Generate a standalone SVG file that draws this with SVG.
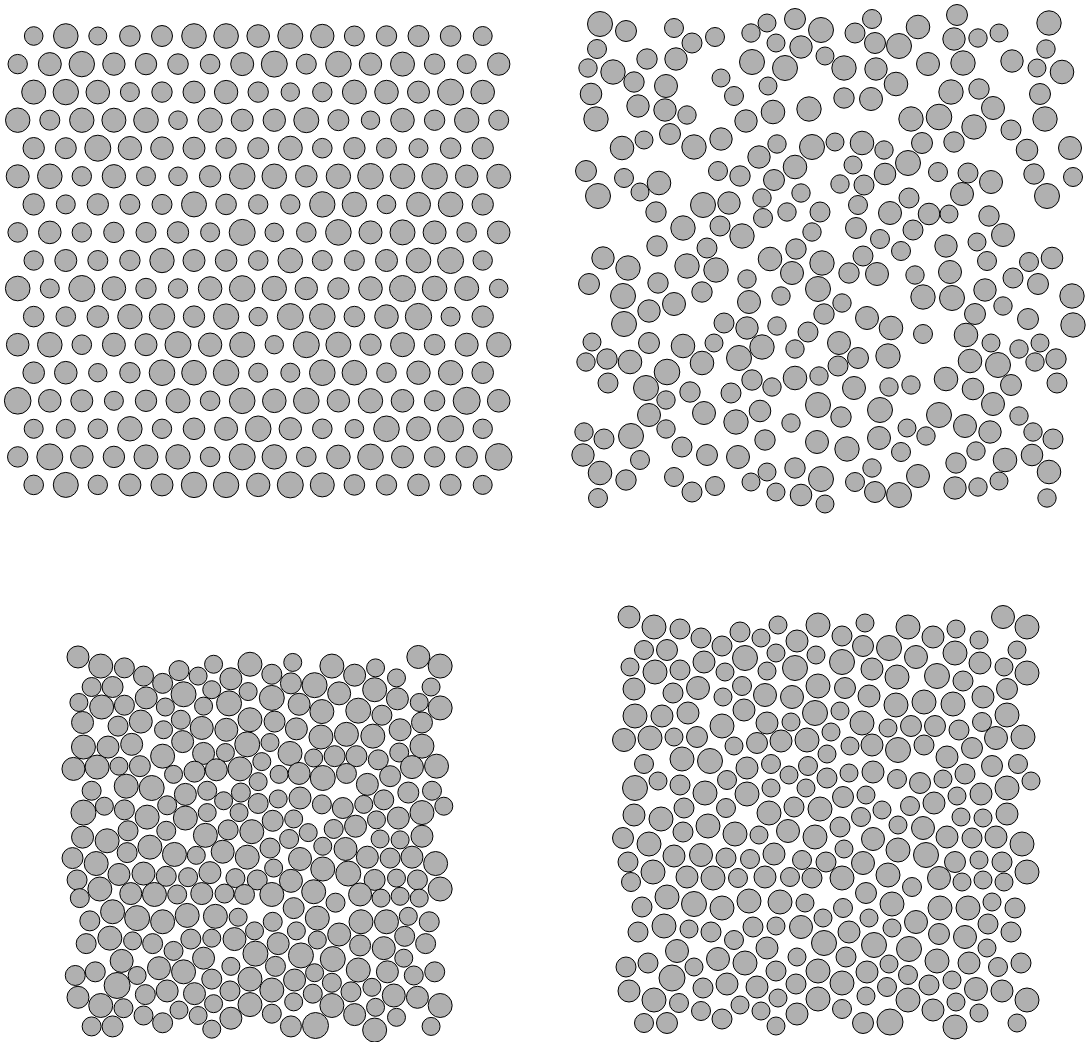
<svg xmlns="http://www.w3.org/2000/svg" xmlns:xlink="http://www.w3.org/1999/xlink" width="1092" height="1042" viewBox="0 0 1092 1042">
<style>
circle{fill:#b0b0b0;stroke:#000;stroke-width:1}
.p circle{r:calc(var(--r) * var(--s, 1));stroke-width:calc(1px * var(--s, 1))}
.a{--r:9px}.b{--r:9.5px}.c{--r:10px}.d{--r:10.5px}.e{--r:11px}.f{--r:11.5px}.g{--r:12px}.h{--r:12.5px}.i{--r:13px}
</style>
<rect width="1092" height="1042" fill="#fff"/>
<g id="lattice">
<g transform="translate(0,36)"><circle cx="33.7" r="9.3"/><circle cx="65.8" r="12.3"/><circle cx="97.8" r="9"/><circle cx="129.9" r="10.3"/><circle cx="162" r="10.5"/><circle cx="194" r="12.3"/><circle cx="226.1" r="12.3"/><circle cx="258.2" r="11.3"/><circle cx="290.3" r="12.5"/><circle cx="322.3" r="11.7"/><circle cx="354.4" r="10"/><circle cx="386.5" r="10.2"/><circle cx="418.5" r="10.5"/><circle cx="450.6" r="10.3"/><circle cx="482.7" r="9.5"/></g>
<g transform="translate(0,64.1)"><circle cx="17.7" r="9.7"/><circle cx="49.8" r="11.5"/><circle cx="81.8" r="12.7"/><circle cx="113.9" r="11.2"/><circle cx="146" r="10.7"/><circle cx="178" r="10.3"/><circle cx="210.1" r="9.8"/><circle cx="242.2" r="11.5"/><circle cx="274.3" r="13"/><circle cx="306.3" r="10"/><circle cx="338.4" r="12.8"/><circle cx="370.5" r="11.2"/><circle cx="402.5" r="12"/><circle cx="434.6" r="10.2"/><circle cx="466.7" r="9.5"/><circle cx="498.7" r="11.2"/></g>
<g transform="translate(0,92.1)"><circle cx="33.7" r="12"/><circle cx="65.8" r="12.7"/><circle cx="97.8" r="11.8"/><circle cx="129.9" r="9.5"/><circle cx="162" r="10.2"/><circle cx="194" r="11"/><circle cx="226.1" r="11.7"/><circle cx="258.2" r="10.2"/><circle cx="290.3" r="9.2"/><circle cx="322.3" r="9.7"/><circle cx="354.4" r="12"/><circle cx="386.5" r="11.8"/><circle cx="418.5" r="11"/><circle cx="450.6" r="13"/><circle cx="482.7" r="11.8"/></g>
<g transform="translate(0,120.2)"><circle cx="17.7" r="12.2"/><circle cx="49.8" r="10"/><circle cx="81.8" r="12.2"/><circle cx="113.9" r="12"/><circle cx="146" r="12.3"/><circle cx="178" r="9.3"/><circle cx="210.1" r="12.2"/><circle cx="242.2" r="11"/><circle cx="274.3" r="11.2"/><circle cx="306.3" r="12.5"/><circle cx="338.4" r="10.5"/><circle cx="370.5" r="9.2"/><circle cx="402.5" r="11.8"/><circle cx="434.6" r="10.2"/><circle cx="466.7" r="12.2"/><circle cx="498.7" r="10"/></g>
<g transform="translate(0,148.2)"><circle cx="33.7" r="10.7"/><circle cx="65.8" r="10.5"/><circle cx="97.8" r="13"/><circle cx="129.9" r="11.7"/><circle cx="162" r="11.3"/><circle cx="194" r="11"/><circle cx="226.1" r="10.2"/><circle cx="258.2" r="10.5"/><circle cx="290.3" r="12"/><circle cx="322.3" r="9.8"/><circle cx="354.4" r="10.7"/><circle cx="386.5" r="10"/><circle cx="418.5" r="9.5"/><circle cx="450.6" r="10.3"/><circle cx="482.7" r="10.7"/></g>
<g transform="translate(0,176.3)"><circle cx="17.7" r="11.5"/><circle cx="49.8" r="12.3"/><circle cx="81.8" r="9.7"/><circle cx="113.9" r="11.7"/><circle cx="146" r="9.5"/><circle cx="178" r="9.3"/><circle cx="210.1" r="10.7"/><circle cx="242.2" r="12.8"/><circle cx="274.3" r="12.3"/><circle cx="306.3" r="10.8"/><circle cx="338.4" r="12.2"/><circle cx="370.5" r="12.8"/><circle cx="402.5" r="12.3"/><circle cx="434.6" r="12.8"/><circle cx="466.7" r="11.3"/><circle cx="498.7" r="12"/></g>
<g transform="translate(0,204.4)"><circle cx="33.7" r="10.7"/><circle cx="65.8" r="9.5"/><circle cx="97.8" r="10.7"/><circle cx="129.9" r="10"/><circle cx="162" r="10"/><circle cx="194" r="12.5"/><circle cx="226.1" r="10.3"/><circle cx="258.2" r="9.7"/><circle cx="290.3" r="9.7"/><circle cx="322.3" r="12.7"/><circle cx="354.4" r="12.2"/><circle cx="386.5" r="9.3"/><circle cx="418.5" r="12"/><circle cx="450.6" r="12.3"/><circle cx="482.7" r="10.7"/></g>
<g transform="translate(0,232.4)"><circle cx="17.7" r="9.8"/><circle cx="49.8" r="11.3"/><circle cx="81.8" r="9.7"/><circle cx="113.9" r="10.2"/><circle cx="146" r="10"/><circle cx="178" r="10.7"/><circle cx="210.1" r="9.5"/><circle cx="242.2" r="13"/><circle cx="274.3" r="9.3"/><circle cx="306.3" r="9.8"/><circle cx="338.4" r="12.8"/><circle cx="370.5" r="11.5"/><circle cx="402.5" r="12.5"/><circle cx="434.6" r="11.5"/><circle cx="466.7" r="9.8"/><circle cx="498.7" r="11.3"/></g>
<g transform="translate(0,260.5)"><circle cx="33.7" r="9.7"/><circle cx="65.8" r="11"/><circle cx="97.8" r="10"/><circle cx="129.9" r="10.2"/><circle cx="162" r="12.2"/><circle cx="194" r="11"/><circle cx="226.1" r="10.8"/><circle cx="258.2" r="9.8"/><circle cx="290.3" r="12.3"/><circle cx="322.3" r="10"/><circle cx="354.4" r="10"/><circle cx="386.5" r="11"/><circle cx="418.5" r="12.3"/><circle cx="450.6" r="13"/><circle cx="482.7" r="9.7"/></g>
<g transform="translate(0,288.5)"><circle cx="17.7" r="12.3"/><circle cx="49.8" r="9.5"/><circle cx="81.8" r="13"/><circle cx="113.9" r="11.8"/><circle cx="146" r="10.2"/><circle cx="178" r="9.7"/><circle cx="210.1" r="11.8"/><circle cx="242.2" r="12.8"/><circle cx="274.3" r="12.2"/><circle cx="306.3" r="11.2"/><circle cx="338.4" r="10.7"/><circle cx="370.5" r="11.8"/><circle cx="402.5" r="13"/><circle cx="434.6" r="12.3"/><circle cx="466.7" r="12"/><circle cx="498.7" r="9.3"/></g>
<g transform="translate(0,316.6)"><circle cx="33.7" r="10.3"/><circle cx="65.8" r="9.8"/><circle cx="97.8" r="10.8"/><circle cx="129.9" r="12.2"/><circle cx="162" r="12.7"/><circle cx="194" r="10.7"/><circle cx="226.1" r="12.7"/><circle cx="258.2" r="9.2"/><circle cx="290.3" r="13"/><circle cx="322.3" r="12.8"/><circle cx="354.4" r="10.3"/><circle cx="386.5" r="11.8"/><circle cx="418.5" r="13.2"/><circle cx="450.6" r="9.5"/><circle cx="482.7" r="10.7"/></g>
<g transform="translate(0,344.7)"><circle cx="17.7" r="11.3"/><circle cx="49.8" r="12.3"/><circle cx="81.8" r="9.8"/><circle cx="113.9" r="11.5"/><circle cx="146" r="11"/><circle cx="178" r="13"/><circle cx="210.1" r="11.7"/><circle cx="242.2" r="12.5"/><circle cx="274.3" r="9.2"/><circle cx="306.3" r="13"/><circle cx="338.4" r="12.5"/><circle cx="370.5" r="10.7"/><circle cx="402.5" r="12"/><circle cx="434.6" r="10.3"/><circle cx="466.7" r="11.5"/><circle cx="498.7" r="12.2"/></g>
<g transform="translate(0,372.7)"><circle cx="33.7" r="10.8"/><circle cx="65.8" r="11.3"/><circle cx="97.8" r="9.2"/><circle cx="129.9" r="10.2"/><circle cx="162" r="12.8"/><circle cx="194" r="12.3"/><circle cx="226.1" r="12.8"/><circle cx="258.2" r="9.5"/><circle cx="290.3" r="9.5"/><circle cx="322.3" r="12.8"/><circle cx="354.4" r="12.3"/><circle cx="386.5" r="9.8"/><circle cx="418.5" r="11.7"/><circle cx="450.6" r="12.2"/><circle cx="482.7" r="10.8"/></g>
<g transform="translate(0,400.8)"><circle cx="17.7" r="13.3"/><circle cx="49.8" r="11.3"/><circle cx="81.8" r="11"/><circle cx="113.9" r="9.5"/><circle cx="146" r="10.7"/><circle cx="178" r="12"/><circle cx="210.1" r="9.8"/><circle cx="242.2" r="12.8"/><circle cx="274.3" r="11.8"/><circle cx="306.3" r="12.8"/><circle cx="338.4" r="11.2"/><circle cx="370.5" r="12.2"/><circle cx="402.5" r="11.3"/><circle cx="434.6" r="10.2"/><circle cx="466.7" r="13.5"/><circle cx="498.7" r="11.3"/></g>
<g transform="translate(0,428.8)"><circle cx="33.7" r="9.5"/><circle cx="65.8" r="9.5"/><circle cx="97.8" r="9.8"/><circle cx="129.9" r="12.2"/><circle cx="162" r="9.7"/><circle cx="194" r="10.8"/><circle cx="226.1" r="11.5"/><circle cx="258.2" r="12.8"/><circle cx="290.3" r="11.2"/><circle cx="322.3" r="9.8"/><circle cx="354.4" r="9.3"/><circle cx="386.5" r="12.8"/><circle cx="418.5" r="12"/><circle cx="450.6" r="13"/><circle cx="482.7" r="9.7"/></g>
<g transform="translate(0,456.9)"><circle cx="17.7" r="10.2"/><circle cx="49.8" r="13"/><circle cx="81.8" r="11.3"/><circle cx="113.9" r="10.7"/><circle cx="146" r="12"/><circle cx="178" r="12.2"/><circle cx="210.1" r="9.8"/><circle cx="242.2" r="13"/><circle cx="274.3" r="12.2"/><circle cx="306.3" r="9.8"/><circle cx="338.4" r="11.8"/><circle cx="370.5" r="12.8"/><circle cx="402.5" r="11"/><circle cx="434.6" r="10.2"/><circle cx="466.7" r="10.7"/><circle cx="498.7" r="13.3"/></g>
<g transform="translate(0,484.9)"><circle cx="33.7" r="9.8"/><circle cx="65.8" r="12.5"/><circle cx="97.8" r="9.7"/><circle cx="129.9" r="11"/><circle cx="162" r="11"/><circle cx="194" r="12.7"/><circle cx="226.1" r="12.7"/><circle cx="258.2" r="11.7"/><circle cx="290.3" r="13"/><circle cx="322.3" r="12"/><circle cx="354.4" r="10.3"/><circle cx="386.5" r="10.2"/><circle cx="418.5" r="10.8"/><circle cx="450.6" r="10.5"/><circle cx="482.7" r="9.5"/></g>
</g>
<g id="random">
<circle cx="600" cy="24" r="12.5"/><circle cx="626" cy="31" r="10.5"/><circle cx="674" cy="28" r="9.5"/><circle cx="692" cy="43" r="10"/><circle cx="715" cy="37" r="9.5"/><circle cx="751" cy="33" r="9.2"/><circle cx="767" cy="23" r="9"/><circle cx="795" cy="19" r="10.5"/><circle cx="821" cy="30" r="12.5"/><circle cx="855" cy="33" r="10"/><circle cx="872" cy="19" r="9.5"/><circle cx="918" cy="27" r="11.8"/><circle cx="957" cy="15" r="10.5"/><circle cx="1049" cy="23" r="12.2"/><circle cx="597" cy="49" r="9.5"/><circle cx="776" cy="43" r="9"/><circle cx="801" cy="47" r="11.2"/><circle cx="875" cy="43" r="10.5"/><circle cx="899" cy="46" r="12.5"/><circle cx="954" cy="39" r="11.2"/><circle cx="978" cy="38" r="9.2"/><circle cx="999" cy="33" r="9"/><circle cx="1046" cy="49" r="9.2"/><circle cx="588" cy="68" r="9.2"/><circle cx="613" cy="72" r="12.2"/><circle cx="647" cy="59" r="10.2"/><circle cx="676" cy="59" r="11.2"/><circle cx="752" cy="62" r="12.5"/><circle cx="785" cy="68" r="12.5"/><circle cx="825" cy="56" r="9"/><circle cx="844" cy="68" r="12.2"/><circle cx="876" cy="69" r="11.2"/><circle cx="928" cy="64" r="11.5"/><circle cx="963" cy="63" r="12.2"/><circle cx="1012" cy="61" r="11.2"/><circle cx="1037" cy="68" r="9"/><circle cx="1062" cy="72" r="11.8"/><circle cx="634" cy="82" r="10.2"/><circle cx="666" cy="86" r="11.5"/><circle cx="721" cy="78" r="9"/><circle cx="768" cy="86" r="9"/><circle cx="896" cy="84" r="11.8"/><circle cx="591" cy="94" r="10.8"/><circle cx="951" cy="92" r="12.2"/><circle cx="979" cy="89" r="10.2"/><circle cx="1040" cy="94" r="10.5"/><circle cx="734" cy="96" r="9.5"/><circle cx="844" cy="98" r="10.2"/><circle cx="871" cy="99" r="11.5"/><circle cx="638" cy="106" r="11.2"/><circle cx="665" cy="110" r="11.2"/><circle cx="687" cy="115" r="9.2"/><circle cx="773" cy="112" r="11.8"/><circle cx="809" cy="109" r="12.2"/><circle cx="993" cy="108" r="11.5"/><circle cx="596" cy="119" r="12.2"/><circle cx="746" cy="121" r="11.2"/><circle cx="911" cy="119" r="12.2"/><circle cx="939" cy="117" r="12.8"/><circle cx="974" cy="127" r="12.2"/><circle cx="1045" cy="119" r="12.2"/><circle cx="1011" cy="130" r="10"/><circle cx="622" cy="148" r="11.8"/><circle cx="644" cy="140" r="9"/><circle cx="670" cy="134" r="10.5"/><circle cx="694" cy="147" r="12.2"/><circle cx="721" cy="139" r="11.2"/><circle cx="759" cy="157" r="11.2"/><circle cx="777" cy="144" r="9.2"/><circle cx="812" cy="147" r="12.5"/><circle cx="835" cy="142" r="9"/><circle cx="862" cy="143" r="11.8"/><circle cx="884" cy="150" r="9.2"/><circle cx="922" cy="143" r="10.5"/><circle cx="954" cy="142" r="10.2"/><circle cx="1027" cy="150" r="10.8"/><circle cx="1070" cy="148" r="11.5"/><circle cx="908" cy="163" r="12.5"/><circle cx="853" cy="165" r="9"/><circle cx="795" cy="167" r="11.8"/><circle cx="586" cy="171" r="10.5"/><circle cx="624" cy="178" r="9.5"/><circle cx="659" cy="183" r="11.8"/><circle cx="718" cy="171" r="9.5"/><circle cx="740" cy="176" r="10.2"/><circle cx="774" cy="180" r="10.5"/><circle cx="885" cy="174" r="10.8"/><circle cx="938" cy="172" r="9.5"/><circle cx="968" cy="173" r="10"/><circle cx="991" cy="182" r="11.5"/><circle cx="1034" cy="174" r="10.2"/><circle cx="1073" cy="177" r="9.5"/>
<circle cx="598" cy="196" r="12.5"/><circle cx="640" cy="192" r="9"/><circle cx="840" cy="184" r="9.2"/><circle cx="864" cy="185" r="10"/><circle cx="962" cy="194" r="11.5"/><circle cx="1047" cy="196" r="12.5"/><circle cx="656" cy="212" r="10.2"/><circle cx="703" cy="205" r="12.5"/><circle cx="729" cy="203" r="11.2"/><circle cx="762" cy="198" r="9.2"/><circle cx="801" cy="193" r="9.2"/><circle cx="858" cy="205" r="9.5"/><circle cx="909" cy="198" r="10"/><circle cx="787" cy="212" r="9.2"/><circle cx="820" cy="212" r="10"/><circle cx="890" cy="213" r="11.5"/><circle cx="929" cy="214" r="10.8"/><circle cx="949" cy="214" r="9"/><circle cx="989" cy="216" r="10.2"/><circle cx="763" cy="218" r="9.5"/><circle cx="683" cy="228" r="12.2"/><circle cx="720" cy="226" r="10"/><circle cx="742" cy="236" r="12.2"/><circle cx="812" cy="232" r="9.2"/><circle cx="856" cy="228" r="10.5"/><circle cx="913" cy="230" r="10"/><circle cx="1003" cy="235" r="11.5"/><circle cx="880" cy="239" r="9.5"/><circle cx="657" cy="246" r="10.2"/><circle cx="707" cy="248" r="10"/><circle cx="796" cy="249" r="10.2"/><circle cx="946" cy="246" r="11.2"/><circle cx="977" cy="242" r="9"/><circle cx="901" cy="251" r="9.5"/><circle cx="603" cy="258" r="11.2"/><circle cx="628" cy="268" r="12.2"/><circle cx="687" cy="266" r="12.2"/><circle cx="716" cy="270" r="12.2"/><circle cx="770" cy="259" r="11.8"/><circle cx="822" cy="263" r="12.2"/><circle cx="863" cy="256" r="10"/><circle cx="987" cy="261" r="9.5"/><circle cx="1029" cy="262" r="9.5"/><circle cx="1052" cy="258" r="10.8"/><circle cx="792" cy="273" r="11.5"/><circle cx="849" cy="273" r="10.2"/><circle cx="877" cy="274" r="11.5"/><circle cx="915" cy="275" r="9.2"/><circle cx="950" cy="272" r="11.5"/><circle cx="589" cy="284" r="10.5"/><circle cx="658" cy="283" r="10.2"/><circle cx="747" cy="279" r="9.2"/><circle cx="1013" cy="278" r="10"/><circle cx="1038" cy="284" r="10.5"/><circle cx="818" cy="289" r="12.5"/><circle cx="623" cy="296" r="12.5"/><circle cx="702" cy="292" r="10.2"/><circle cx="781" cy="296" r="9.2"/><circle cx="923" cy="297" r="12.2"/><circle cx="952" cy="298" r="12.5"/><circle cx="985" cy="290" r="11.2"/><circle cx="1072" cy="296" r="12.2"/><circle cx="749" cy="302" r="11.5"/><circle cx="674" cy="304" r="11.5"/><circle cx="649" cy="311" r="11.2"/><circle cx="842" cy="303" r="9.2"/><circle cx="1003" cy="306" r="9.2"/><circle cx="824" cy="314" r="10.2"/><circle cx="867" cy="318" r="11.5"/><circle cx="975" cy="314" r="10.5"/><circle cx="1028" cy="319" r="10.5"/><circle cx="624" cy="324" r="12.5"/><circle cx="724" cy="323" r="10"/><circle cx="747" cy="328" r="11.2"/><circle cx="777" cy="326" r="9.2"/><circle cx="891" cy="328" r="11.8"/><circle cx="1073" cy="325" r="12.2"/><circle cx="808" cy="332" r="10"/><circle cx="966" cy="335" r="11.8"/><circle cx="923" cy="334" r="9.5"/>
<circle cx="592" cy="342" r="9"/><circle cx="649" cy="343" r="10.5"/><circle cx="683" cy="346" r="11.8"/><circle cx="714" cy="343" r="9"/><circle cx="762" cy="347" r="12.2"/><circle cx="795" cy="349" r="9.2"/><circle cx="839" cy="343" r="11.5"/><circle cx="991" cy="343" r="9"/><circle cx="1019" cy="349" r="9.2"/><circle cx="1040" cy="343" r="9"/><circle cx="586" cy="362" r="9.2"/><circle cx="607" cy="359" r="10.2"/><circle cx="630" cy="362" r="11.8"/><circle cx="667" cy="372" r="12.8"/><circle cx="702" cy="363" r="11.8"/><circle cx="739" cy="358" r="12.5"/><circle cx="858" cy="358" r="10.5"/><circle cx="888" cy="356" r="12.2"/><circle cx="838" cy="366" r="10"/><circle cx="970" cy="361" r="11.8"/><circle cx="998" cy="365" r="12.5"/><circle cx="1035" cy="362" r="9.2"/><circle cx="1056" cy="359" r="10.2"/><circle cx="608" cy="383" r="10"/><circle cx="646" cy="388" r="12.5"/><circle cx="752" cy="380" r="10.2"/><circle cx="772" cy="387" r="9.2"/><circle cx="795" cy="378" r="11.8"/><circle cx="819" cy="376" r="9.2"/><circle cx="854" cy="388" r="11.5"/><circle cx="889" cy="387" r="9.2"/><circle cx="911" cy="385" r="9.2"/><circle cx="946" cy="379" r="11.8"/><circle cx="973" cy="389" r="10.8"/><circle cx="1011" cy="385" r="10.5"/><circle cx="1057" cy="383" r="10"/><circle cx="666" cy="400" r="9.2"/><circle cx="690" cy="392" r="10.2"/><circle cx="731" cy="393" r="10"/><circle cx="818" cy="405" r="12.5"/><circle cx="880" cy="410" r="12.5"/><circle cx="993" cy="404" r="11.5"/><circle cx="649" cy="415" r="11.5"/><circle cx="704" cy="413" r="11.5"/><circle cx="760" cy="411" r="10.8"/><circle cx="736" cy="422" r="12.2"/><circle cx="791" cy="423" r="9.2"/><circle cx="841" cy="417" r="10.2"/><circle cx="939" cy="415" r="12.5"/><circle cx="1019" cy="416" r="9.2"/><circle cx="584" cy="432" r="9.2"/><circle cx="604" cy="439" r="10"/><circle cx="631" cy="436" r="12.5"/><circle cx="666" cy="429" r="9.2"/><circle cx="907" cy="428" r="9"/><circle cx="965" cy="426" r="11.5"/><circle cx="990" cy="432" r="11.2"/><circle cx="1033" cy="432" r="9.2"/><circle cx="926" cy="436" r="9.2"/><circle cx="765" cy="440" r="10.2"/><circle cx="817" cy="442" r="11.5"/><circle cx="879" cy="438" r="11.5"/><circle cx="1053" cy="439" r="10"/><circle cx="682" cy="447" r="10"/><circle cx="847" cy="449" r="12.2"/><circle cx="583" cy="455" r="11.2"/><circle cx="707" cy="455" r="10.5"/><circle cx="738" cy="457" r="11.5"/><circle cx="640" cy="460" r="9.5"/><circle cx="901" cy="452" r="9.5"/><circle cx="976" cy="451" r="9.2"/><circle cx="1005" cy="460" r="11.8"/><circle cx="1032" cy="455" r="10.8"/><circle cx="600" cy="473" r="11.8"/><circle cx="872" cy="468" r="9.2"/><circle cx="795" cy="468" r="10.2"/><circle cx="956" cy="463" r="10.2"/><circle cx="767" cy="472" r="9"/><circle cx="821" cy="479" r="12.5"/><circle cx="918" cy="476" r="11.5"/><circle cx="1049" cy="472" r="11.8"/><circle cx="626" cy="480" r="10.2"/><circle cx="674" cy="477" r="9.5"/><circle cx="715" cy="486" r="9.5"/><circle cx="751" cy="482" r="9"/><circle cx="855" cy="482" r="9.5"/><circle cx="999" cy="481" r="9"/><circle cx="692" cy="492" r="10"/><circle cx="776" cy="492" r="9"/><circle cx="801" cy="495" r="10.8"/><circle cx="875" cy="492" r="10.5"/><circle cx="899" cy="495" r="12.5"/><circle cx="955" cy="488" r="11.2"/><circle cx="978" cy="487" r="9.2"/><circle cx="598" cy="498" r="9.5"/><circle cx="825" cy="504" r="9"/><circle cx="1047" cy="498" r="9.2"/>
</g>
<g id="loose" class="p">
<circle class="e" cx="629" cy="617"/><circle class="g" cx="654" cy="627"/><circle class="c" cx="680" cy="629"/><circle class="c" cx="701" cy="638"/><circle class="c" cx="740" cy="632"/><circle class="a" cx="778" cy="625"/><circle class="g" cx="818" cy="625"/><circle class="a" cx="865" cy="623"/><circle class="g" cx="908" cy="627"/><circle class="e" cx="933" cy="637"/><circle class="a" cx="956" cy="629"/><circle class="f" cx="1003" cy="617"/><circle class="g" cx="1027" cy="627"/><circle class="b" cx="644" cy="650"/><circle class="d" cx="667" cy="650"/><circle class="c" cx="722" cy="646"/><circle class="a" cx="761" cy="638"/><circle class="e" cx="797" cy="641"/><circle class="c" cx="842" cy="636"/><circle class="d" cx="863" cy="646"/><circle class="h" cx="889" cy="648"/><circle class="f" cx="916" cy="657"/><circle class="g" cx="955" cy="653"/><circle class="a" cx="979" cy="640"/><circle class="a" cx="1017" cy="650"/><circle class="a" cx="776" cy="653"/><circle class="a" cx="816" cy="655"/><circle class="a" cx="630" cy="667"/><circle class="g" cx="655" cy="672"/><circle class="c" cx="680" cy="670"/><circle class="e" cx="704" cy="662"/><circle class="h" cx="745" cy="658"/><circle class="a" cx="725" cy="672"/><circle class="a" cx="767" cy="671"/><circle class="h" cx="795" cy="668"/><circle class="h" cx="842" cy="662"/><circle class="e" cx="872" cy="669"/><circle class="g" cx="897" cy="677"/><circle class="h" cx="937" cy="676"/><circle class="e" cx="980" cy="663"/><circle class="a" cx="1004" cy="667"/><circle class="g" cx="1027" cy="673"/><circle class="e" cx="634" cy="689"/><circle class="c" cx="673" cy="693"/><circle class="f" cx="698" cy="688"/><circle class="b" cx="742" cy="686"/><circle class="f" cx="765" cy="695"/><circle class="a" cx="723" cy="697"/><circle class="f" cx="792" cy="697"/><circle class="g" cx="818" cy="686"/><circle class="d" cx="845" cy="688"/><circle class="e" cx="869" cy="696"/><circle class="g" cx="896" cy="705"/><circle class="g" cx="924" cy="702"/><circle class="c" cx="963" cy="681"/><circle class="e" cx="983" cy="697"/><circle class="d" cx="1007" cy="689"/><circle class="g" cx="953" cy="704"/><circle class="g" cx="635" cy="716"/><circle class="e" cx="662" cy="716"/><circle class="e" cx="688" cy="713"/><circle class="e" cx="744" cy="710"/><circle class="g" cx="722" cy="726"/><circle class="e" cx="767" cy="723"/><circle class="a" cx="791" cy="722"/><circle class="h" cx="815" cy="713"/><circle class="a" cx="840" cy="711"/><circle class="g" cx="862" cy="723"/><circle class="b" cx="982" cy="722"/><circle class="g" cx="1007" cy="715"/><circle class="a" cx="888" cy="728"/><circle class="d" cx="911" cy="726"/><circle class="d" cx="935" cy="726"/><circle class="c" cx="959" cy="730"/><circle class="a" cx="831" cy="732"/><circle class="f" cx="624" cy="740"/><circle class="g" cx="650" cy="738"/><circle class="a" cx="674" cy="737"/><circle class="d" cx="697" cy="737"/><circle class="a" cx="734" cy="746"/><circle class="d" cx="757" cy="743"/><circle class="e" cx="781" cy="741"/><circle class="g" cx="807" cy="740"/><circle class="a" cx="850" cy="746"/><circle class="e" cx="872" cy="745"/><circle class="h" cx="898" cy="750"/><circle class="c" cx="924" cy="745"/><circle class="d" cx="972" cy="748"/><circle class="f" cx="996" cy="738"/><circle class="g" cx="1023" cy="737"/><circle class="e" cx="947" cy="757"/>
<circle class="b" cx="644" cy="764"/><circle class="g" cx="682" cy="759"/><circle class="h" cx="710" cy="761"/><circle class="e" cx="747" cy="768"/><circle class="b" cx="771" cy="764"/><circle class="b" cx="808" cy="766"/><circle class="a" cx="827" cy="754"/><circle class="e" cx="873" cy="772"/><circle class="d" cx="992" cy="766"/><circle class="b" cx="1018" cy="764"/><circle class="h" cx="635" cy="788"/><circle class="a" cx="658" cy="781"/><circle class="c" cx="680" cy="785"/><circle class="g" cx="705" cy="793"/><circle class="b" cx="727" cy="780"/><circle class="g" cx="747" cy="794"/><circle class="a" cx="771" cy="788"/><circle class="a" cx="789" cy="775"/><circle class="a" cx="806" cy="788"/><circle class="c" cx="827" cy="778"/><circle class="a" cx="849" cy="773"/><circle class="b" cx="897" cy="779"/><circle class="d" cx="920" cy="783"/><circle class="a" cx="943" cy="779"/><circle class="c" cx="965" cy="774"/><circle class="e" cx="981" cy="794"/><circle class="g" cx="1007" cy="788"/><circle class="a" cx="1031" cy="781"/><circle class="a" cx="957" cy="796"/><circle class="e" cx="934" cy="803"/><circle class="b" cx="910" cy="806"/><circle class="d" cx="843" cy="797"/><circle class="a" cx="866" cy="795"/><circle class="e" cx="634" cy="815"/><circle class="g" cx="661" cy="819"/><circle class="c" cx="684" cy="808"/><circle class="b" cx="726" cy="808"/><circle class="g" cx="769" cy="813"/><circle class="c" cx="794" cy="807"/><circle class="g" cx="820" cy="809"/><circle class="b" cx="861" cy="817"/><circle class="a" cx="882" cy="810"/><circle class="a" cx="961" cy="817"/><circle class="a" cx="983" cy="818"/><circle class="e" cx="1007" cy="814"/><circle class="c" cx="683" cy="832"/><circle class="g" cx="708" cy="826"/><circle class="g" cx="735" cy="834"/><circle class="a" cx="759" cy="835"/><circle class="f" cx="788" cy="831"/><circle class="g" cx="815" cy="837"/><circle class="c" cx="840" cy="827"/><circle class="a" cx="898" cy="825"/><circle class="f" cx="923" cy="828"/><circle class="d" cx="623" cy="838"/><circle class="g" cx="649" cy="844"/><circle class="f" cx="873" cy="839"/><circle class="e" cx="947" cy="837"/><circle class="c" cx="972" cy="838"/><circle class="e" cx="996" cy="837"/><circle class="g" cx="1022" cy="844"/><circle class="a" cx="844" cy="849"/><circle class="g" cx="898" cy="850"/><circle class="h" cx="926" cy="855"/><circle class="c" cx="628" cy="862"/><circle class="g" cx="653" cy="872"/><circle class="e" cx="674" cy="856"/><circle class="f" cx="701" cy="855"/><circle class="c" cx="726" cy="858"/><circle class="b" cx="750" cy="859"/><circle class="e" cx="774" cy="854"/><circle class="b" cx="802" cy="860"/><circle class="c" cx="826" cy="862"/><circle class="f" cx="863" cy="863"/><circle class="d" cx="955" cy="862"/><circle class="a" cx="979" cy="860"/><circle class="c" cx="1002" cy="862"/><circle class="g" cx="1027" cy="872"/><circle class="b" cx="631" cy="882"/><circle class="e" cx="687" cy="877"/><circle class="g" cx="713" cy="878"/><circle class="b" cx="738" cy="878"/><circle class="e" cx="765" cy="877"/><circle class="b" cx="790" cy="877"/><circle class="c" cx="812" cy="878"/><circle class="g" cx="842" cy="878"/><circle class="g" cx="888" cy="875"/><circle class="f" cx="939" cy="878"/><circle class="a" cx="962" cy="882"/><circle class="a" cx="983" cy="880"/><circle class="a" cx="1004" cy="882"/>
<circle class="d" cx="866" cy="893"/><circle class="b" cx="912" cy="887"/><circle class="g" cx="667" cy="897"/><circle class="c" cx="642" cy="907"/><circle class="h" cx="694" cy="904"/><circle class="g" cx="722" cy="908"/><circle class="g" cx="749" cy="901"/><circle class="g" cx="780" cy="902"/><circle class="a" cx="805" cy="903"/><circle class="b" cx="843" cy="908"/><circle class="g" cx="892" cy="904"/><circle class="g" cx="940" cy="908"/><circle class="g" cx="968" cy="908"/><circle class="a" cx="992" cy="902"/><circle class="c" cx="1015" cy="908"/><circle class="c" cx="638" cy="932"/><circle class="g" cx="664" cy="926"/><circle class="a" cx="689" cy="929"/><circle class="c" cx="711" cy="932"/><circle class="b" cx="734" cy="940"/><circle class="c" cx="753" cy="927"/><circle class="a" cx="776" cy="926"/><circle class="f" cx="801" cy="927"/><circle class="a" cx="823" cy="918"/><circle class="e" cx="849" cy="932"/><circle class="a" cx="869" cy="918"/><circle class="a" cx="892" cy="928"/><circle class="f" cx="916" cy="922"/><circle class="d" cx="939" cy="934"/><circle class="f" cx="965" cy="937"/><circle class="c" cx="988" cy="924"/><circle class="c" cx="1011" cy="932"/><circle class="h" cx="824" cy="943"/><circle class="h" cx="874" cy="945"/><circle class="h" cx="909" cy="949"/><circle class="a" cx="987" cy="948"/><circle class="f" cx="677" cy="951"/><circle class="e" cx="767" cy="948"/><circle class="a" cx="797" cy="957"/><circle class="c" cx="846" cy="957"/><circle class="c" cx="626" cy="967"/><circle class="c" cx="648" cy="963"/><circle class="a" cx="694" cy="967"/><circle class="f" cx="718" cy="959"/><circle class="g" cx="745" cy="963"/><circle class="c" cx="776" cy="971"/><circle class="g" cx="818" cy="971"/><circle class="e" cx="867" cy="972"/><circle class="a" cx="889" cy="964"/><circle class="g" cx="937" cy="961"/><circle class="e" cx="969" cy="963"/><circle class="b" cx="998" cy="967"/><circle class="c" cx="1021" cy="963"/><circle class="i" cx="672" cy="978"/><circle class="b" cx="908" cy="975"/><circle class="e" cx="629" cy="991"/><circle class="c" cx="703" cy="988"/><circle class="e" cx="727" cy="984"/><circle class="e" cx="757" cy="987"/><circle class="c" cx="796" cy="984"/><circle class="g" cx="842" cy="983"/><circle class="b" cx="887" cy="987"/><circle class="c" cx="929" cy="985"/><circle class="a" cx="952" cy="980"/><circle class="f" cx="976" cy="989"/><circle class="e" cx="1002" cy="991"/><circle class="g" cx="1027" cy="1000"/><circle class="g" cx="654" cy="1000"/><circle class="b" cx="679" cy="1003"/><circle class="a" cx="740" cy="1005"/><circle class="a" cx="778" cy="998"/><circle class="g" cx="818" cy="999"/><circle class="a" cx="866" cy="996"/><circle class="g" cx="908" cy="1000"/><circle class="e" cx="933" cy="1010"/><circle class="a" cx="956" cy="1002"/><circle class="b" cx="701" cy="1011"/><circle class="a" cx="761" cy="1011"/><circle class="e" cx="797" cy="1014"/><circle class="b" cx="842" cy="1009"/><circle class="a" cx="979" cy="1013"/><circle class="b" cx="644" cy="1023"/><circle class="d" cx="667" cy="1023"/><circle class="c" cx="722" cy="1019"/><circle class="a" cx="776" cy="1026"/><circle class="d" cx="863" cy="1023"/><circle class="i" cx="890" cy="1022"/><circle class="g" cx="955" cy="1027"/><circle class="a" cx="1017" cy="1023"/>
</g>
<g id="dense">
<use xlink:href="#loose" href="#loose" transform="translate(-494.4,95.5) scale(0.91)" style="--s:1.0989"/>
</g>
</svg>
